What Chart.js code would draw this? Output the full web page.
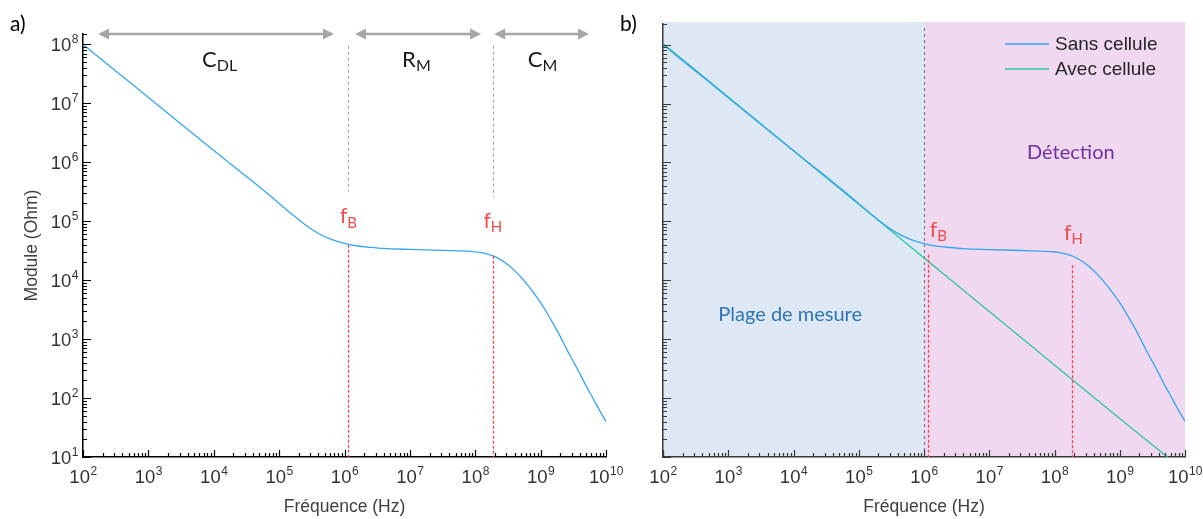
<!DOCTYPE html>
<html>
<head>
<meta charset="utf-8">
<script src="https://cdn.jsdelivr.net/npm/chart.js@4.4.1/dist/chart.umd.min.js"></script>
<style>
  html, body { margin: 0; padding: 0; background: #fff; }
  #wrap { position: relative; width: 1203px; height: 519px; }
  #chartA { position: absolute; left: 0; top: 0; }
  #chartB { position: absolute; left: 615px; top: 0; }
</style>
</head>
<body>
<div id="wrap">
  <canvas id="chartA" width="640" height="519"></canvas>
  <canvas id="chartB" width="588" height="519"></canvas>
</div>
<script>
// donnees
var sansFreq = [1e2, 3.16e2, 1e3, 3.16e3, 1e4, 3.16e4, 6.3e4, 1e5, 1.58e5, 2.5e5, 4e5, 6.3e5, 1e6, 1.58e6, 2.5e6, 4e6, 1e7, 3.16e7, 1e8, 1.26e8, 1.58e8, 2e8, 2.5e8, 3.16e8, 4e8, 5e8, 6.3e8, 7.9e8, 1e9, 1.26e9, 1.58e9, 2e9, 2.5e9, 3.16e9, 4e9, 5e9, 6.3e9, 7.9e9, 1e10];
var sansZ = [1e8, 3.55e7, 1.26e7, 4.47e6, 1.58e6, 5.75e5, 3.1e5, 2e5, 1.3e5, 8.7e4, 6.2e4, 4.9e4, 4.2e4, 3.8e4, 3.6e4, 3.45e4, 3.32e4, 3.2e4, 3.02e4, 2.92e4, 2.75e4, 2.51e4, 2.19e4, 1.82e4, 1.45e4, 1.12e4, 8.3e3, 6.0e3, 4.17e3, 2.75e3, 1.78e3, 1.1e3, 676, 417, 257, 158, 100, 63, 40];
var avecFreq = [1e2, 1e3, 1e4, 1e5, 1e6, 1e7, 1e8, 1e9, 5.4e9];
var avecZ = [1.05e8, 1.29e7, 1.58e6, 1.95e5, 2.4e4, 2.95e3, 363, 45, 10];

var xDecades = [2, 3, 4, 5, 6, 7, 8, 9, 10];
var yDecades = [1, 2, 3, 4, 5, 6, 7, 8];
var seriesLabels = ['Sans cellule', 'Avec cellule'];
var fB = 1.15e6, fH = 1.86e8;
var zoneLimits = [1e2, 1e6, 1e10];

var blue = '#35a5f5', green = '#2fc79c';
var labelFam = "'Liberation Sans', Arial, sans-serif";
var titleFont = { family: labelFam, size: 17.5 };
var textFam = "Lato, 'Open Sans', sans-serif";

function pts(xs, ys) {
  return xs.map(function(x, i) { return { x: x, y: ys[i] }; });
}
function isMajor(v) {
  var l = Math.log10(v);
  return Math.abs(l - Math.round(l)) < 1e-9;
}
function buildTicks(decades, max) {
  var t = [];
  decades.forEach(function(d, i) {
    t.push({ value: Math.pow(10, d) });
    if (i < decades.length - 1) {
      for (var m = 2; m <= 9; m++) {
        var v = m * Math.pow(10, d);
        if (v <= max) t.push({ value: v });
      }
    }
  });
  return t;
}

// 10 puissance n, avec exposant en haut
function powLabel(ctx, v, x, y, align) {
  var e = String(Math.round(Math.log10(v)));
  ctx.font = '18.5px ' + labelFam;
  var w1 = ctx.measureText('10').width;
  ctx.font = '12px ' + labelFam;
  var w2 = ctx.measureText(e).width;
  var x0 = align === 'right' ? x - w1 - w2 : x - (w1 + w2) / 2;
  ctx.textAlign = 'left';
  ctx.textBaseline = 'alphabetic';
  ctx.font = '18.5px ' + labelFam;
  ctx.fillText('10', x0, y);
  ctx.font = '12px ' + labelFam;
  ctx.fillText(e, x0 + w1 + 0.5, y - 8);
}

// petits traits vers l'interieur + etiquettes
var axisDeco = {
  id: 'axisDeco',
  afterDatasetsDraw: function(chart, args, o) {
    var ctx = chart.ctx, a = chart.chartArea, x = chart.scales.x, y = chart.scales.y;
    ctx.save();
    ctx.strokeStyle = o.color;
    ctx.lineWidth = 1.2;
    ctx.beginPath();
    x.ticks.forEach(function(t) {
      var px = Math.round(x.getPixelForValue(t.value)) + 0.5;
      var len = isMajor(t.value) ? 7 : 4;
      ctx.moveTo(px, a.bottom); ctx.lineTo(px, a.bottom - len);
    });
    y.ticks.forEach(function(t) {
      var py = Math.round(y.getPixelForValue(t.value)) + 0.5;
      var len = isMajor(t.value) ? 8 : 4;
      ctx.moveTo(a.left, py); ctx.lineTo(a.left + len, py);
    });
    ctx.moveTo(a.left, a.top + 0.5); ctx.lineTo(a.left + 4, a.top + 0.5);
    ctx.stroke();
    ctx.fillStyle = '#333';
    x.ticks.forEach(function(t) {
      if (isMajor(t.value)) powLabel(ctx, t.value, x.getPixelForValue(t.value), a.bottom + 26, 'center');
    });
    if (o.yLabels) {
      y.ticks.forEach(function(t) {
        if (isMajor(t.value)) powLabel(ctx, t.value, a.left - 5, y.getPixelForValue(t.value) + 6.5, 'right');
      });
    }
    ctx.restore();
  }
};

function subText(ctx, main, sub, cx, cy, size, color) {
  ctx.save();
  ctx.fillStyle = color;
  ctx.textBaseline = 'middle';
  ctx.font = size + 'px ' + textFam;
  var w1 = ctx.measureText(main).width;
  ctx.font = Math.round(size * 0.72) + 'px ' + textFam;
  var w2 = ctx.measureText(sub).width;
  var x0 = cx - (w1 + w2) / 2;
  ctx.textAlign = 'left';
  ctx.font = size + 'px ' + textFam;
  ctx.fillText(main, x0, cy);
  ctx.font = Math.round(size * 0.72) + 'px ' + textFam;
  ctx.fillText(sub, x0 + w1, cy + size * 0.3);
  ctx.restore();
}

function vdash(ctx, x, y1, y2, color, dash) {
  ctx.save();
  ctx.strokeStyle = color;
  ctx.lineWidth = 1.2;
  ctx.setLineDash(dash);
  ctx.beginPath();
  ctx.moveTo(Math.round(x) + 0.5, y1);
  ctx.lineTo(Math.round(x) + 0.5, y2);
  ctx.stroke();
  ctx.restore();
}

function arrow(ctx, x1, x2, y) {
  ctx.save();
  ctx.strokeStyle = '#a6a6a6';
  ctx.fillStyle = '#a6a6a6';
  ctx.lineWidth = 2.5;
  ctx.beginPath();
  ctx.moveTo(x1 + 8, y); ctx.lineTo(x2 - 8, y);
  ctx.stroke();
  ctx.beginPath();
  ctx.moveTo(x1, y); ctx.lineTo(x1 + 11, y - 5.5); ctx.lineTo(x1 + 11, y + 5.5); ctx.closePath();
  ctx.moveTo(x2, y); ctx.lineTo(x2 - 11, y - 5.5); ctx.lineTo(x2 - 11, y + 5.5); ctx.closePath();
  ctx.fill();
  ctx.restore();
}

function panelLetter(ctx, txt, x, y) {
  ctx.save();
  ctx.fillStyle = '#000';
  ctx.font = '21px ' + textFam;
  ctx.textBaseline = 'middle';
  ctx.fillText(txt, x, y);
  ctx.restore();
}

var annotA = {
  id: 'annotA',
  afterDatasetsDraw: function(chart) {
    var ctx = chart.ctx, a = chart.chartArea, x = chart.scales.x, y = chart.scales.y;
    var xb = x.getPixelForValue(fB), xh = x.getPixelForValue(fH);
    vdash(ctx, xb, y.getPixelForValue(9.5e7), y.getPixelForValue(3.2e5), '#a6a6a6', [3, 3]);
    vdash(ctx, xh, y.getPixelForValue(9.5e7), y.getPixelForValue(2.6e5), '#a6a6a6', [3, 3]);
    vdash(ctx, xb, y.getPixelForValue(4.0e4), a.bottom, '#ff3b3b', [3, 2]);
    vdash(ctx, xh, y.getPixelForValue(2.6e4), a.bottom, '#ff3b3b', [3, 2]);
    arrow(ctx, x.getPixelForValue(1.7e2), x.getPixelForValue(6.9e5), a.top);
    arrow(ctx, x.getPixelForValue(1.45e6), x.getPixelForValue(1.23e8), a.top);
    arrow(ctx, x.getPixelForValue(1.95e8), x.getPixelForValue(5.5e9), a.top);
    subText(ctx, 'C', 'DL', x.getPixelForValue(1.23e4), y.getPixelForValue(5.5e7), 22, '#1a1a1a');
    subText(ctx, 'R', 'M', x.getPixelForValue(1.26e7), y.getPixelForValue(5.5e7), 22, '#1a1a1a');
    subText(ctx, 'C', 'M', x.getPixelForValue(1.07e9), y.getPixelForValue(5.5e7), 22, '#1a1a1a');
    subText(ctx, 'f', 'B', x.getPixelForValue(fB), y.getPixelForValue(1.2e5), 21, '#f04a4a');
    subText(ctx, 'f', 'H', x.getPixelForValue(fH), y.getPixelForValue(1.0e5), 21, '#f04a4a');
    panelLetter(ctx, 'a)', 10, 24);
  }
};

var zonesB = {
  id: 'zonesB',
  beforeDraw: function(chart) {
    var ctx = chart.ctx, a = chart.chartArea, x = chart.scales.x;
    var x0 = x.getPixelForValue(zoneLimits[0]), x1 = x.getPixelForValue(zoneLimits[1]), x2 = x.getPixelForValue(zoneLimits[2]);
    ctx.save();
    ctx.fillStyle = '#dde8f4';
    ctx.fillRect(x0, a.top - 2, x1 - x0, a.bottom - a.top + 2);
    ctx.fillStyle = '#f0d8f0';
    ctx.fillRect(x1, a.top - 2, x2 - x1, a.bottom - a.top + 2);
    ctx.restore();
  },
  afterDatasetsDraw: function(chart) {
    var ctx = chart.ctx, a = chart.chartArea, x = chart.scales.x, y = chart.scales.y;
    vdash(ctx, x.getPixelForValue(zoneLimits[1]), a.top + 4, a.bottom, '#7f7f7f', [3, 3]);
    vdash(ctx, x.getPixelForValue(fB), y.getPixelForValue(2.7e4), a.bottom, '#ff3b3b', [3, 2]);
    vdash(ctx, x.getPixelForValue(fH), y.getPixelForValue(1.8e4), a.bottom, '#ff3b3b', [3, 2]);
    subText(ctx, 'f', 'B', x.getPixelForValue(1.66e6), y.getPixelForValue(7.1e4), 21, '#f04a4a');
    subText(ctx, 'f', 'H', x.getPixelForValue(1.95e8), y.getPixelForValue(6.3e4), 21, '#f04a4a');
    ctx.save();
    ctx.textAlign = 'center';
    ctx.textBaseline = 'middle';
    ctx.font = '20px ' + textFam;
    ctx.fillStyle = '#7030a0';
    ctx.fillText('Détection', x.getPixelForValue(1.78e8), y.getPixelForValue(1.5e6));
    ctx.fillStyle = '#2e75b6';
    ctx.fillText('Plage de mesure', x.getPixelForValue(8.9e3), y.getPixelForValue(2.6e3));
    // legende
    var lx = a.right - 180, tx = a.right - 130;
    chart.data.datasets.forEach(function(ds, i) {
      var ly = a.top + 20 + i * 25;
      ctx.strokeStyle = ds.borderColor;
      ctx.lineWidth = 1.5;
      ctx.beginPath(); ctx.moveTo(lx, ly); ctx.lineTo(lx + 44, ly); ctx.stroke();
      ctx.fillStyle = '#262626';
      ctx.textAlign = 'left';
      ctx.font = '19px ' + labelFam;
      ctx.fillText(ds.label, tx, ly + 1);
    });
    ctx.restore();
    panelLetter(ctx, 'b)', 5, 24);
  }
};

function makeOptions(opt) {
  return {
    responsive: false,
    devicePixelRatio: 1,
    animation: false,
    layout: { padding: opt.pad },
    elements: { point: { radius: 0 } },
    plugins: {
      legend: { display: false },
      tooltip: { enabled: false },
      axisDeco: { color: opt.axisColor, yLabels: opt.yLabels }
    },
    scales: {
      x: {
        type: 'logarithmic',
        min: 1e2, max: 1e10,
        grid: { display: false },
        border: { display: true, color: opt.axisColor, width: 1.5 },
        afterBuildTicks: function(s) { s.ticks = buildTicks(xDecades, 1e10); },
        afterFit: function(s) { s.height = opt.xHeight; s.paddingLeft = 0; s.paddingRight = 0; },
        ticks: { display: false, autoSkip: false, maxRotation: 0 },
        title: { display: true, text: 'Fréquence (Hz)', color: '#404040', font: titleFont, padding: { top: 0, bottom: 1 } }
      },
      y: {
        type: 'logarithmic',
        min: 10, max: opt.yMax,
        grid: { display: false },
        border: { display: true, color: opt.axisColor, width: 1.5 },
        afterBuildTicks: function(s) { s.ticks = buildTicks(yDecades, opt.yMax); },
        afterFit: function(s) { s.width = opt.yWidth; s.paddingTop = 0; s.paddingBottom = 0; },
        ticks: { display: false, autoSkip: false },
        title: { display: opt.yLabels, text: 'Module (Ohm)', color: '#404040', font: titleFont, padding: { top: 22, bottom: 0 } }
      }
    }
  };
}

function lineSet(label, xs, ys, color) {
  return {
    label: label,
    data: pts(xs, ys),
    borderColor: color,
    borderWidth: 1.3,
    fill: false,
    cubicInterpolationMode: 'monotone'
  };
}

new Chart(document.getElementById('chartA').getContext('2d'), {
  type: 'line',
  data: { datasets: [lineSet(seriesLabels[0], sansFreq, sansZ, blue)] },
  options: makeOptions({ pad: { left: 0, top: 34, right: 34, bottom: 0 }, xHeight: 62, yWidth: 83, yMax: 1.5e8, yLabels: true, axisColor: '#000' }),
  plugins: [axisDeco, annotA]
});

new Chart(document.getElementById('chartB').getContext('2d'), {
  type: 'line',
  data: { datasets: [lineSet(seriesLabels[0], sansFreq, sansZ, blue), lineSet(seriesLabels[1], avecFreq, avecZ, green)] },
  options: makeOptions({ pad: { left: 0, top: 24, right: 18, bottom: 0 }, xHeight: 62, yWidth: 48, yMax: 2.24e8, yLabels: false, axisColor: '#3a3a3a' }),
  plugins: [zonesB, axisDeco]
});
</script>
</body>
</html>
